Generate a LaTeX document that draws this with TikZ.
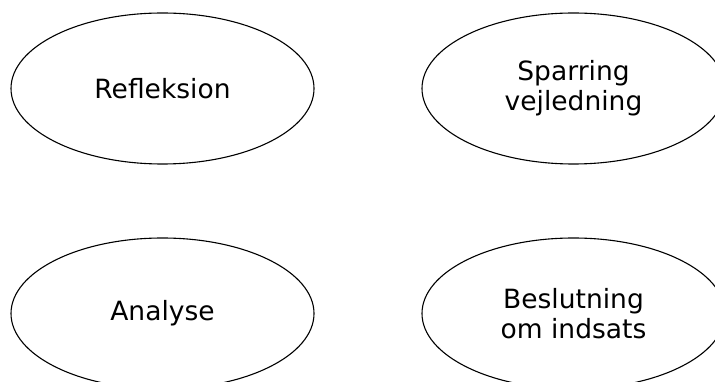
\documentclass[tikz,border=0pt]{standalone}
\usepackage{fontspec}
\setmainfont{DejaVu Sans}
\usetikzlibrary{shapes.geometric}
\tikzset{felt/.style={draw, ellipse, line width=1.1pt, minimum width=303pt, minimum height=151pt, inner sep=0pt, align=center, font=\fontsize{26.5}{30}\selectfont}}
\begin{document}
\begin{tikzpicture}[x=1pt, y=-1pt]
                \useasboundingbox (0,0) rectangle (715,382);
                \node[felt] (A) at (162.5,88.5) {Refleksion};
                \node[felt, right of=A, node distance=411pt] (B) {Sparring\\vejledning};
                \node[felt, below of=A, node distance=225pt] (C) {Analyse};
                \node[felt, below of=B, node distance=225pt] (D) {Beslutning\\om indsats};
            \end{tikzpicture}
\end{document}
